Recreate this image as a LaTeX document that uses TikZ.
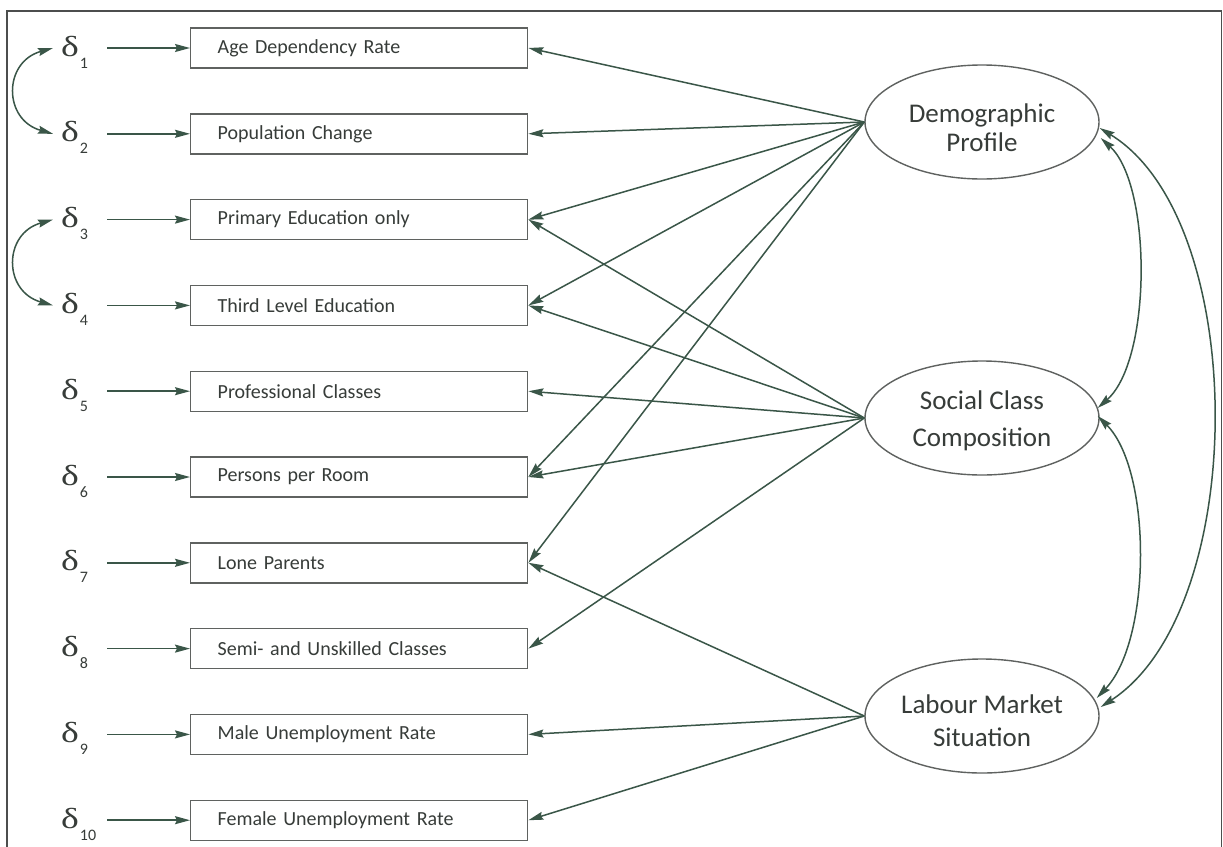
\documentclass[tikz,border=0pt]{standalone}
\usepackage{fontspec}
\setmainfont{Carlito}
\newfontfamily\dfont{Liberation Serif}
\usetikzlibrary{arrows.meta,shapes.geometric,calc}
\definecolor{ln}{RGB}{58,86,72}
\definecolor{tx}{RGB}{55,60,57}
\definecolor{bx}{RGB}{95,98,96}
\newcommand\dl[1]{{\dfont\fontsize{29}{29}\selectfont\scalebox{1.3}[1]{δ}}\kern1pt\raisebox{-12pt}{\fontsize{16}{16}\selectfont #1}}
\newcommand\up[1]{\rule{0pt}{#1}}
\begin{document}
\begin{tikzpicture}[x=1pt,y=-1pt,
  tip/.style={-{Stealth[length=15pt,width=8pt,inset=2pt]}, draw=ln, line width=1.5pt},
  dtip/.style={{Stealth[length=15pt,width=8pt,inset=2pt]}-{Stealth[length=15pt,width=8pt,inset=2pt]}, draw=ln, line width=1.5pt},
  obs/.style={draw=bx, line width=1.4pt, rectangle, minimum width=337pt, minimum height=40pt,
    inner xsep=27pt, inner ysep=0pt, text width=283pt, align=left, anchor=west,
    font=\fontsize{20}{22}\selectfont, text=tx},
  lat/.style={draw=bx, line width=1.4pt, ellipse, minimum width=234pt, minimum height=114pt,
    inner sep=0pt, align=center, text=tx},
  dnode/.style={anchor=base west, inner sep=0pt, text width=44pt, text=tx}
]
\useasboundingbox (0,0) rectangle (1223,846);
\fill[white] (0,0) rectangle (1223,846);
\draw[bx!80!black, line width=1.8pt] (7,850) -- (7,11) -- (1221.5,11) -- (1221.5,850);

% observed variables
\node[obs] (b1) at (190,48) {Age Dependency Rate};
\node[obs] (b2) at (190,133.8) {Population Change};
\node[obs] (b3) at (190,219.6) {Primary Education only};
\node[obs] (b4) at (190,305.4) {Third Level Education};
\node[obs] (b5) at (190,391.2) {Professional Classes};
\node[obs] (b6) at (190,477) {Persons per Room};
\node[obs] (b7) at (190,562.8) {Lone Parents};
\node[obs] (b8) at (190,648.6) {Semi- and Unskilled Classes};
\node[obs] (b9) at (190,734.4) {Male Unemployment Rate};
\node[obs] (b10) at (190,820.2) {Female Unemployment Rate};

% error terms
\node[dnode] (d1) at (61,56) {\dl{1}};
\node[dnode] (d2) at (61,141.8) {\dl{2}};
\node[dnode] (d3) at (61,227.6) {\dl{3}};
\node[dnode] (d4) at (61,313.4) {\dl{4}};
\node[dnode] (d5) at (61,399.2) {\dl{5}};
\node[dnode] (d6) at (61,485) {\dl{6}};
\node[dnode] (d7) at (61,570.8) {\dl{7}};
\node[dnode] (d8) at (61,656.6) {\dl{8}};
\node[dnode] (d9) at (61,742.4) {\dl{9}};
\node[dnode] (d10) at (61,828.2) {\dl{10}};

\foreach \i in {1,...,10}{
  \draw[tip] ($(d\i.east |- b\i.west)+(2,0)$) -- (b\i.west);
}

% error covariances
\draw[dtip] ($(d1.west |- b1.west)+(-8,0)$) .. controls ($(d1.west |- b1.west)+(-58,14)$) and ($(d2.west |- b2.west)+(-58,-14)$) .. ($(d2.west |- b2.west)+(-8,0)$);
\draw[dtip] ($(d3.west |- b3.west)+(-8,0)$) .. controls ($(d3.west |- b3.west)+(-58,14)$) and ($(d4.west |- b4.west)+(-58,-14)$) .. ($(d4.west |- b4.west)+(-8,0)$);

% latent variables
\node[lat, font=\fontsize{27}{29}\selectfont] (dem) at (982,122) {\up{30pt}Demographic\\Profile};
\node[lat, font=\fontsize{27}{37}\selectfont] (soc) at (982,418) {\up{25pt}Social Class\\Composition};
\node[lat, font=\fontsize{27}{33}\selectfont] (lab) at (982,716) {\up{28pt}Labour Market\\Situation};

% loadings
\foreach \b in {b1,b2,b3,b4,b6,b7}{ \draw[tip] (dem.west) -- (\b.east); }
\foreach \b in {b3,b4,b5,b6,b8}{ \draw[tip] (soc.west) -- (\b.east); }
\foreach \b in {b7,b9,b10}{ \draw[tip] (lab.west) -- (\b.east); }

% latent covariances
\coordinate (demA) at ($(dem.east)+(1,16)$);
\coordinate (demB) at ($(dem.east)+(0,6)$);
\coordinate (socA) at ($(soc.east)+(-2,-10)$);
\coordinate (socB) at ($(soc.east)+(-2,-2)$);
\coordinate (labA) at ($(lab.east)+(-3,-18)$);
\coordinate (labB) at ($(lab.east)+(1,-9)$);
\draw[dtip] (demA) .. controls (1152,185) and (1152,360) .. (socA);
\draw[dtip] (socB) .. controls (1152,470) and (1152,640) .. (labA);
\draw[dtip] (demB) .. controls (1250,220) and (1250,610) .. (labB);
\end{tikzpicture}
\end{document}
